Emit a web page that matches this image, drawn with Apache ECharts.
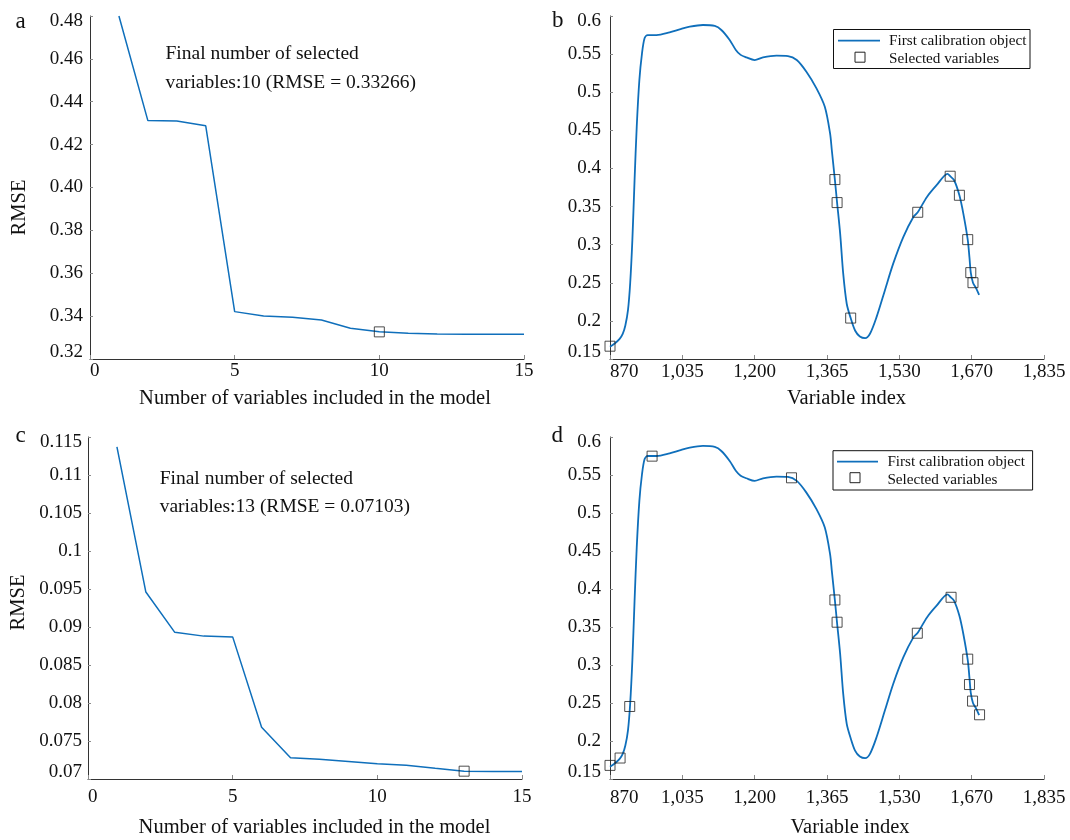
<!DOCTYPE html>
<html>
<head>
<meta charset="utf-8">
<script src="https://cdn.jsdelivr.net/npm/echarts@6/dist/echarts.min.js"></script>
<style>
  html, body { margin: 0; padding: 0; background: #ffffff; }
  #chart { width: 1070px; height: 840px; }
</style>
</head>
<body>
<div id="chart"></div>
<script>
// ---- RMSE against number of variables in the model (panels a and c) ----
const varCounts = [1, 2, 3, 4, 5, 6, 7, 8, 9, 10, 11, 12, 13, 14, 15];
const rmseA = [0.4800, 0.4312, 0.4310, 0.4288, 0.3421, 0.3401, 0.3395, 0.3382,
               0.3343, 0.33266, 0.3320, 0.3317, 0.3316, 0.3316, 0.3316];
const rmseC = [0.1137, 0.0946, 0.0893, 0.0888, 0.0887, 0.0768, 0.0728, 0.0726,
               0.0723, 0.0720, 0.0718, 0.0714, 0.07103, 0.0710, 0.0710];
const finalCountA = 10;
const finalRmseA = 0.33266;
const finalCountC = 13;
const finalRmseC = 0.07103;

const rmseTicksA = ['0.32', '0.34', '0.36', '0.38', '0.40', '0.42', '0.44', '0.46', '0.48'];
const rmseTicksC = ['0.07', '0.075', '0.08', '0.085', '0.09', '0.095', '0.1', '0.105', '0.11', '0.115'];
const countTicks = ['0', '5', '10', '15'];

// ---- Spectrum of the first calibration object (panels b and d) ----
const spectrumIndex = [870, 880, 892, 899, 905, 911, 916, 921, 926, 931, 937, 943, 949, 956,
  976, 1006, 1029, 1052, 1082, 1109, 1124, 1143, 1157, 1168, 1181, 1200, 1219, 1250, 1276, 1296,
  1318, 1341, 1360, 1372, 1376, 1383, 1388, 1395, 1402, 1410, 1419, 1429, 1440, 1452, 1463,
  1478, 1497, 1516, 1539, 1562, 1572, 1593, 1615, 1640, 1646, 1655, 1667, 1676, 1686, 1690,
  1693, 1698, 1705, 1712];
const spectrumValue = [0.166, 0.170, 0.1765, 0.183, 0.194, 0.214, 0.249, 0.306, 0.384, 0.455,
  0.516, 0.551, 0.571, 0.575, 0.575, 0.5786, 0.5825, 0.586, 0.5882, 0.5869, 0.5816, 0.5685,
  0.5555, 0.5490, 0.5457, 0.5422, 0.5457, 0.5479, 0.5474, 0.5422, 0.5268, 0.505, 0.4808, 0.4459,
  0.4239, 0.3850, 0.3552, 0.3145, 0.2619, 0.2225, 0.2037, 0.1874, 0.1796, 0.1774, 0.1831,
  0.2049, 0.240, 0.2751, 0.310, 0.3363, 0.3425, 0.3626, 0.378, 0.3930, 0.3898, 0.3845,
  0.3648, 0.3408, 0.3066, 0.283, 0.2633, 0.2501, 0.243, 0.234];

// selected variables (b: 10 variables, d: 13 variables)
const selIndexB = [870, 1383, 1388, 1419, 1572, 1646, 1667, 1686, 1693, 1698];
const selValueB = [0.1668, 0.3854, 0.3552, 0.2037, 0.3425, 0.3898, 0.3648, 0.3066, 0.2633, 0.2501];
const selIndexD = [870, 893, 915, 966, 1284, 1383, 1388, 1571, 1648, 1686, 1690, 1697, 1713];
const selValueD = [0.1679, 0.1776, 0.2454, 0.5748, 0.5463, 0.3856, 0.3563, 0.3418, 0.3891,
                   0.3077, 0.2743, 0.2525, 0.2345];

const indexTickPos = [870, 1035, 1200, 1365, 1530, 1695, 1860];
const indexTickText = ['870', '1,035', '1,200', '1,365', '1,530', '1,670', '1,835'];
const reflTicks = ['0.15', '0.2', '0.25', '0.3', '0.35', '0.4', '0.45', '0.5', '0.55', '0.6'];

const lineName = 'First calibration object';
const markName = 'Selected variables';

// ---- styling ----
const SERIF = '"Liberation Serif", "Times New Roman", Times, serif';
const BLUE = '#0f6fbb';
const INK = '#111111';
const AXIS = '#333333';

const zip = (xs, ys) => xs.map((x, i) => [x, ys[i]]);

function yLabel(ticks, min, step, margin) {
  const base = { fontSize: 19, fontFamily: SERIF, color: INK };
  return {
    margin: margin,
    fontSize: 19, fontFamily: SERIF, color: INK,
    formatter: function (v) {
      const i = Math.round((v - min) / step);
      const t = ticks[i];
      if (t === undefined) return '';
      if (i === 0) return '{lo|' + t + '}';
      if (i === ticks.length - 1) return '{hi|' + t + '}';
      return '{n|' + t + '}';
    },
    rich: {
      n: Object.assign({}, base),
      lo: Object.assign({ padding: [0, 0, 13, 0] }, base),
      hi: Object.assign({ padding: [10, 0, 0, 0] }, base)
    }
  };
}

function yAxis(gridIndex, min, max, step, ticks, margin, name, nameGap, namePad) {
  return {
    type: 'value', gridIndex, min, max, interval: step,
    axisLine: { show: true, lineStyle: { color: AXIS, width: 1 } },
    axisTick: { show: true, inside: true, length: 3, lineStyle: { color: '#8a8a8a' } },
    splitLine: { show: false },
    axisLabel: yLabel(ticks, min, step, margin),
    name: name, nameLocation: 'middle', nameGap: nameGap,
    nameTextStyle: { fontSize: 20.5, fontFamily: SERIF, color: INK, padding: namePad }
  };
}

function countAxis(gridIndex, margin, nameGap, namePad) {
  return {
    type: 'value', gridIndex, min: 0, max: 15, interval: 5,
    axisLine: { show: true, onZero: false, lineStyle: { color: AXIS, width: 1 } },
    axisTick: { show: true, inside: true, length: 4, lineStyle: { color: '#8a8a8a' } },
    splitLine: { show: false },
    axisLabel: {
      margin, fontSize: 19, fontFamily: SERIF, color: INK, alignMinLabel: 'left',
      formatter: (v) => countTicks[Math.round(v / 5)]
    },
    name: 'Number of variables included in the model',
    nameLocation: 'middle', nameGap: nameGap,
    nameTextStyle: { fontSize: 20.5, fontFamily: SERIF, color: INK, padding: namePad }
  };
}

function indexAxis(gridIndex, margin, nameGap, namePad) {
  return {
    type: 'value', gridIndex, min: 870, max: 1860,
    axisLine: { show: true, onZero: false, lineStyle: { color: AXIS, width: 1 } },
    axisTick: { show: true, inside: true, length: 4, customValues: indexTickPos,
                lineStyle: { color: '#8a8a8a' } },
    splitLine: { show: false },
    axisLabel: {
      margin, fontSize: 19, fontFamily: SERIF, color: INK, alignMinLabel: 'left',
      customValues: indexTickPos,
      formatter: (v) => indexTickText[indexTickPos.indexOf(v)]
    },
    name: 'Variable index',
    nameLocation: 'middle', nameGap: nameGap,
    nameTextStyle: { fontSize: 20.5, fontFamily: SERIF, color: INK, padding: namePad }
  };
}

const markerStyle = { color: 'rgba(0,0,0,0)', borderColor: '#222222', borderWidth: 1 };

function curve(name, xi, yi, data, width, smooth) {
  return {
    type: 'line', name, xAxisIndex: xi, yAxisIndex: yi, data,
    showSymbol: false, symbol: 'none', smooth: smooth,
    lineStyle: { color: BLUE, width: width }, z: 2, silent: true
  };
}
function marks(name, xi, yi, data) {
  return {
    type: 'scatter', name, xAxisIndex: xi, yAxisIndex: yi, data,
    symbol: 'rect', symbolSize: 10, itemStyle: markerStyle, z: 3, silent: true
  };
}

function panelLetter(ch, x, y) {
  return { type: 'text', x: x, y: y,
           style: { text: ch, fontSize: 23, fontFamily: SERIF, fill: INK,
                    textAlign: 'left', textVerticalAlign: 'middle' } };
}

function note(count, rmse, x, y, lh) {
  return { type: 'text', x: x, y: y,
           style: { text: 'Final number of selected\nvariables:' + count +
                          ' (RMSE = ' + rmse.toFixed(5) + ')',
                    fontSize: 19.5, fontFamily: SERIF, fill: INK, lineHeight: lh,
                    textAlign: 'left', textVerticalAlign: 'middle' } };
}

function legendBox(bx, by, bw, bh, lineX1, lineX2, row1, markX, markY, textX, row2) {
  return {
    type: 'group',
    children: [
      { type: 'rect', shape: { x: bx, y: by, width: bw, height: bh },
        style: { fill: '#ffffff', stroke: '#111111', lineWidth: 1 } },
      { type: 'line', shape: { x1: lineX1, y1: row1, x2: lineX2, y2: row1 },
        style: { stroke: BLUE, lineWidth: 1.8 } },
      { type: 'rect', shape: { x: markX - 5, y: markY - 5, width: 10, height: 10 },
        style: { fill: 'none', stroke: '#222222', lineWidth: 1 } },
      { type: 'text', x: textX, y: row1,
        style: { text: lineName, fontSize: 15.2, fontFamily: SERIF, fill: INK,
                 textAlign: 'left', textVerticalAlign: 'middle' } },
      { type: 'text', x: textX, y: row2,
        style: { text: markName, fontSize: 15.2, fontFamily: SERIF, fill: INK,
                 textAlign: 'left', textVerticalAlign: 'middle' } }
    ]
  };
}

const option = {
  backgroundColor: '#ffffff',
  animation: false,
  grid: [
    { left: 90, top: 16, width: 434, height: 343 },
    { left: 610, top: 16, width: 434, height: 343 },
    { left: 88, top: 437, width: 434, height: 342 },
    { left: 610, top: 437, width: 434, height: 342 }
  ],
  xAxis: [
    countAxis(0, 3, 29, [0, 0, 0, 16]),
    indexAxis(1, 4, 29.5, [0, 0, 0, 39]),
    countAxis(2, 8.5, 38.5, [0, 0, 0, 19]),
    indexAxis(3, 9.5, 38.5, [0, 0, 0, 46])
  ],
  yAxis: [
    yAxis(0, 0.32, 0.48, 0.02, rmseTicksA, 7, 'RMSE', 60, [0, 40, 0, 0]),
    yAxis(1, 0.15, 0.6, 0.05, reflTicks, 9, '', 0, 0),
    yAxis(2, 0.07, 0.115, 0.005, rmseTicksC, 6, 'RMSE', 58.5, [0, 0, 0, 11]),
    yAxis(3, 0.15, 0.6, 0.05, reflTicks, 9, '', 0, 0)
  ],
  series: [
    curve('RMSE a', 0, 0, zip(varCounts, rmseA), 1.5, false),
    marks('final a', 0, 0, [[finalCountA, finalRmseA]]),
    curve(lineName, 1, 1, zip(spectrumIndex, spectrumValue), 1.8, 0.3),
    marks(markName, 1, 1, zip(selIndexB, selValueB)),
    curve('RMSE c', 2, 2, zip(varCounts, rmseC), 1.5, false),
    marks('final c', 2, 2, [[finalCountC, finalRmseC]]),
    curve(lineName, 3, 3, zip(spectrumIndex, spectrumValue), 1.8, 0.3),
    marks(markName, 3, 3, zip(selIndexD, selValueD))
  ],
  graphic: [
    panelLetter('a', 15.5, 21.5),
    panelLetter('b', 552, 20.5),
    panelLetter('c', 15.5, 436),
    panelLetter('d', 551.5, 436.2),
    note(finalCountA, finalRmseA, 165.5, 68.4, 28.7),
    note(finalCountC, finalRmseC, 159.7, 493.3, 28),
    legendBox(833.5, 29.5, 196.5, 39, 838, 880, 40.6, 860, 57.2, 889, 59),
    legendBox(833, 450.7, 199.6, 39.3, 837, 878, 461.7, 855, 477.7, 887.4, 480)
  ]
};

const chart = echarts.init(document.getElementById('chart'), null, { renderer: 'canvas' });
chart.setOption(option);
</script>
</body>
</html>
